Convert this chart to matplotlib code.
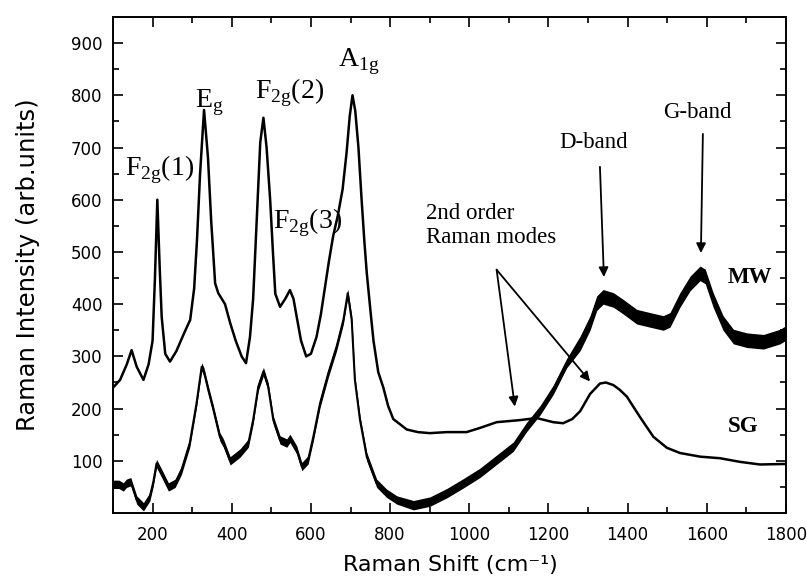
import matplotlib
matplotlib.use("Agg")
import matplotlib.pyplot as plt
import numpy as np

# spectrum (Raman shift in cm-1, intensity in arb. units)
sg_x = [100, 118, 135, 147, 160, 177, 190, 200, 206, 212, 218, 223, 232, 244, 260, 280, 295, 305, 312, 320,
        330, 340, 348, 358, 366, 375, 383, 396, 410, 425, 436, 446, 454, 463, 472, 480, 488, 497, 504, 510,
        522, 535, 547, 556, 564, 575, 588, 600, 614, 625, 635, 645, 656, 668, 680, 690, 698, 705, 712, 720,
        728, 735, 741, 750, 758, 770, 783, 795, 808, 825, 842, 870, 900, 943, 993, 1027, 1069, 1128, 1170, 1212,
        1237, 1260, 1280, 1305, 1330, 1345, 1364, 1380, 1398, 1431, 1465, 1499, 1532, 1583, 1633, 1684, 1734, 1800]
sg_y = [240, 255, 285, 312, 280, 255, 285, 330, 450, 600, 470, 376, 305, 290, 310, 345, 370, 430, 520, 650,
        772, 680, 560, 440, 421, 410, 400, 364, 330, 300, 287, 337, 410, 560, 710, 757, 700, 600, 500, 420,
        395, 410, 427, 410, 376, 330, 300, 305, 337, 380, 430, 480, 530, 570, 620, 690, 760, 800, 770, 700,
        600, 520, 460, 390, 330, 270, 240, 205, 180, 170, 160, 155, 153, 155, 155, 163, 174, 178, 182, 174,
        172, 180, 195, 228, 248, 250, 245, 236, 223, 184, 146, 125, 115, 108, 105, 98, 93, 94]

mw_x = [100, 115, 126, 134, 145, 160, 177, 193, 202, 210, 223, 240, 257, 273, 294, 311, 324, 330, 341, 353,
        370, 379, 396, 421, 442, 454, 467, 480, 492, 505, 522, 539, 547, 564, 577, 593, 606, 623, 644, 665,
        682, 693, 703, 711, 724, 741, 766, 791, 817, 859, 901, 943, 985, 1027, 1069, 1111, 1145, 1179, 1212, 1246,
        1280, 1305, 1322, 1338, 1364, 1389, 1423, 1456, 1490, 1507, 1532, 1558, 1583, 1596, 1616, 1641, 1667, 1701, 1743, 1785,
        1800]
mw_y = [55, 55, 50, 57, 60, 25, 12, 31, 60, 95, 76, 50, 57, 82, 134, 210, 280, 270, 235, 200,
        146, 134, 100, 115, 134, 178, 242, 271, 242, 178, 140, 134, 143, 121, 89, 102, 146, 210, 268, 319,
        370, 421, 370, 255, 178, 108, 57, 38, 25, 15, 22, 38, 57, 77, 102, 127, 165, 197, 236, 287,
        325, 364, 402, 414, 408, 395, 376, 370, 364, 370, 408, 440, 459, 453, 408, 364, 338, 331, 328, 338,
        345]
# half-width of the noisy MW trace
mw_noise = [8] * 49 + [9] * 11 + [14] * 21

peak_labels = ["F$_{\\mathregular{2g}}$(1)", "E$_{\\mathregular{g}}$", "F$_{\\mathregular{2g}}$(2)",
               "A$_{\\mathregular{1g}}$", "F$_{\\mathregular{2g}}$(3)"]
peak_label_x = [130, 307, 459, 668, 504]
peak_label_y = [647, 778, 795, 855, 546]

plt.rcParams['mathtext.fontset'] = 'custom'
plt.rcParams['mathtext.rm'] = 'Liberation Serif'

fig = plt.figure(figsize=(8.07, 5.85), dpi=100)
ax = fig.add_axes([0.140, 0.123, 0.834, 0.848])

mw_lo = np.array(mw_y) - np.array(mw_noise)
mw_hi = np.array(mw_y) + np.array(mw_noise)
ax.fill_between(mw_x, mw_lo, mw_hi, color='black', lw=0)
ax.plot(mw_x, mw_y, color='black', lw=1.5)
ax.plot(sg_x, sg_y, color='black', lw=1.8)

ax.set_xlim(100, 1800)
ax.set_ylim(0, 950)
ax.set_xticks(range(200, 1801, 200))
ax.set_xticks(range(100, 1801, 100), minor=True)
ax.set_yticks(range(100, 901, 100))
ax.set_yticks(range(50, 951, 50), minor=True)
ax.tick_params(which='both', direction='in', top=True, right=True, width=1.2)
ax.tick_params(which='major', length=7)
ax.tick_params(which='minor', length=4)
ax.tick_params(axis='x', labelsize=12, pad=9)
ax.tick_params(axis='y', labelsize=12, pad=7.5)
for s in ax.spines.values():
    s.set_linewidth(1.4)

ax.set_xlabel("Raman Shift (cm\u207b\u00b9)", fontsize=16)
ax.set_ylabel("Raman Intensity (arb.units)", fontsize=17.5)
ax.xaxis.set_label_coords(0.502, -0.085)
ax.yaxis.set_label_coords(-0.108, 0.5)

serif = 'Liberation Serif'
for lab, lx, ly in zip(peak_labels, peak_label_x, peak_label_y):
    ax.text(lx, ly, lab, fontsize=20, family=serif, ha='left', va='baseline')

ax.text(891, 593, "2nd order\nRaman modes", fontsize=16.5, family=serif, ha='left', va='top', linespacing=1.15)
ax.text(1227, 699, "D-band", fontsize=16.5, family=serif, ha='left', va='baseline')
ax.text(1489, 756, "G-band", fontsize=16.5, family=serif, ha='left', va='baseline')
ax.text(1653, 440, "MW", fontsize=16.5, family=serif, weight='bold', ha='left', va='baseline')
ax.text(1653, 155, "SG", fontsize=16.5, family=serif, weight='bold', ha='left', va='baseline')

arrow = dict(arrowstyle='-|>', color='black', lw=1.3, mutation_scale=14, shrinkA=0, shrinkB=0)
ax.annotate("", xy=(1340, 452), xytext=(1330, 663), arrowprops=arrow)
ax.annotate("", xy=(1585, 498), xytext=(1590, 726), arrowprops=arrow)
ax.annotate("", xy=(1115, 204), xytext=(1069, 466), arrowprops=arrow)
ax.annotate("", xy=(1305, 252), xytext=(1069, 466), arrowprops=arrow)

fig.savefig("out.png", dpi=100)
